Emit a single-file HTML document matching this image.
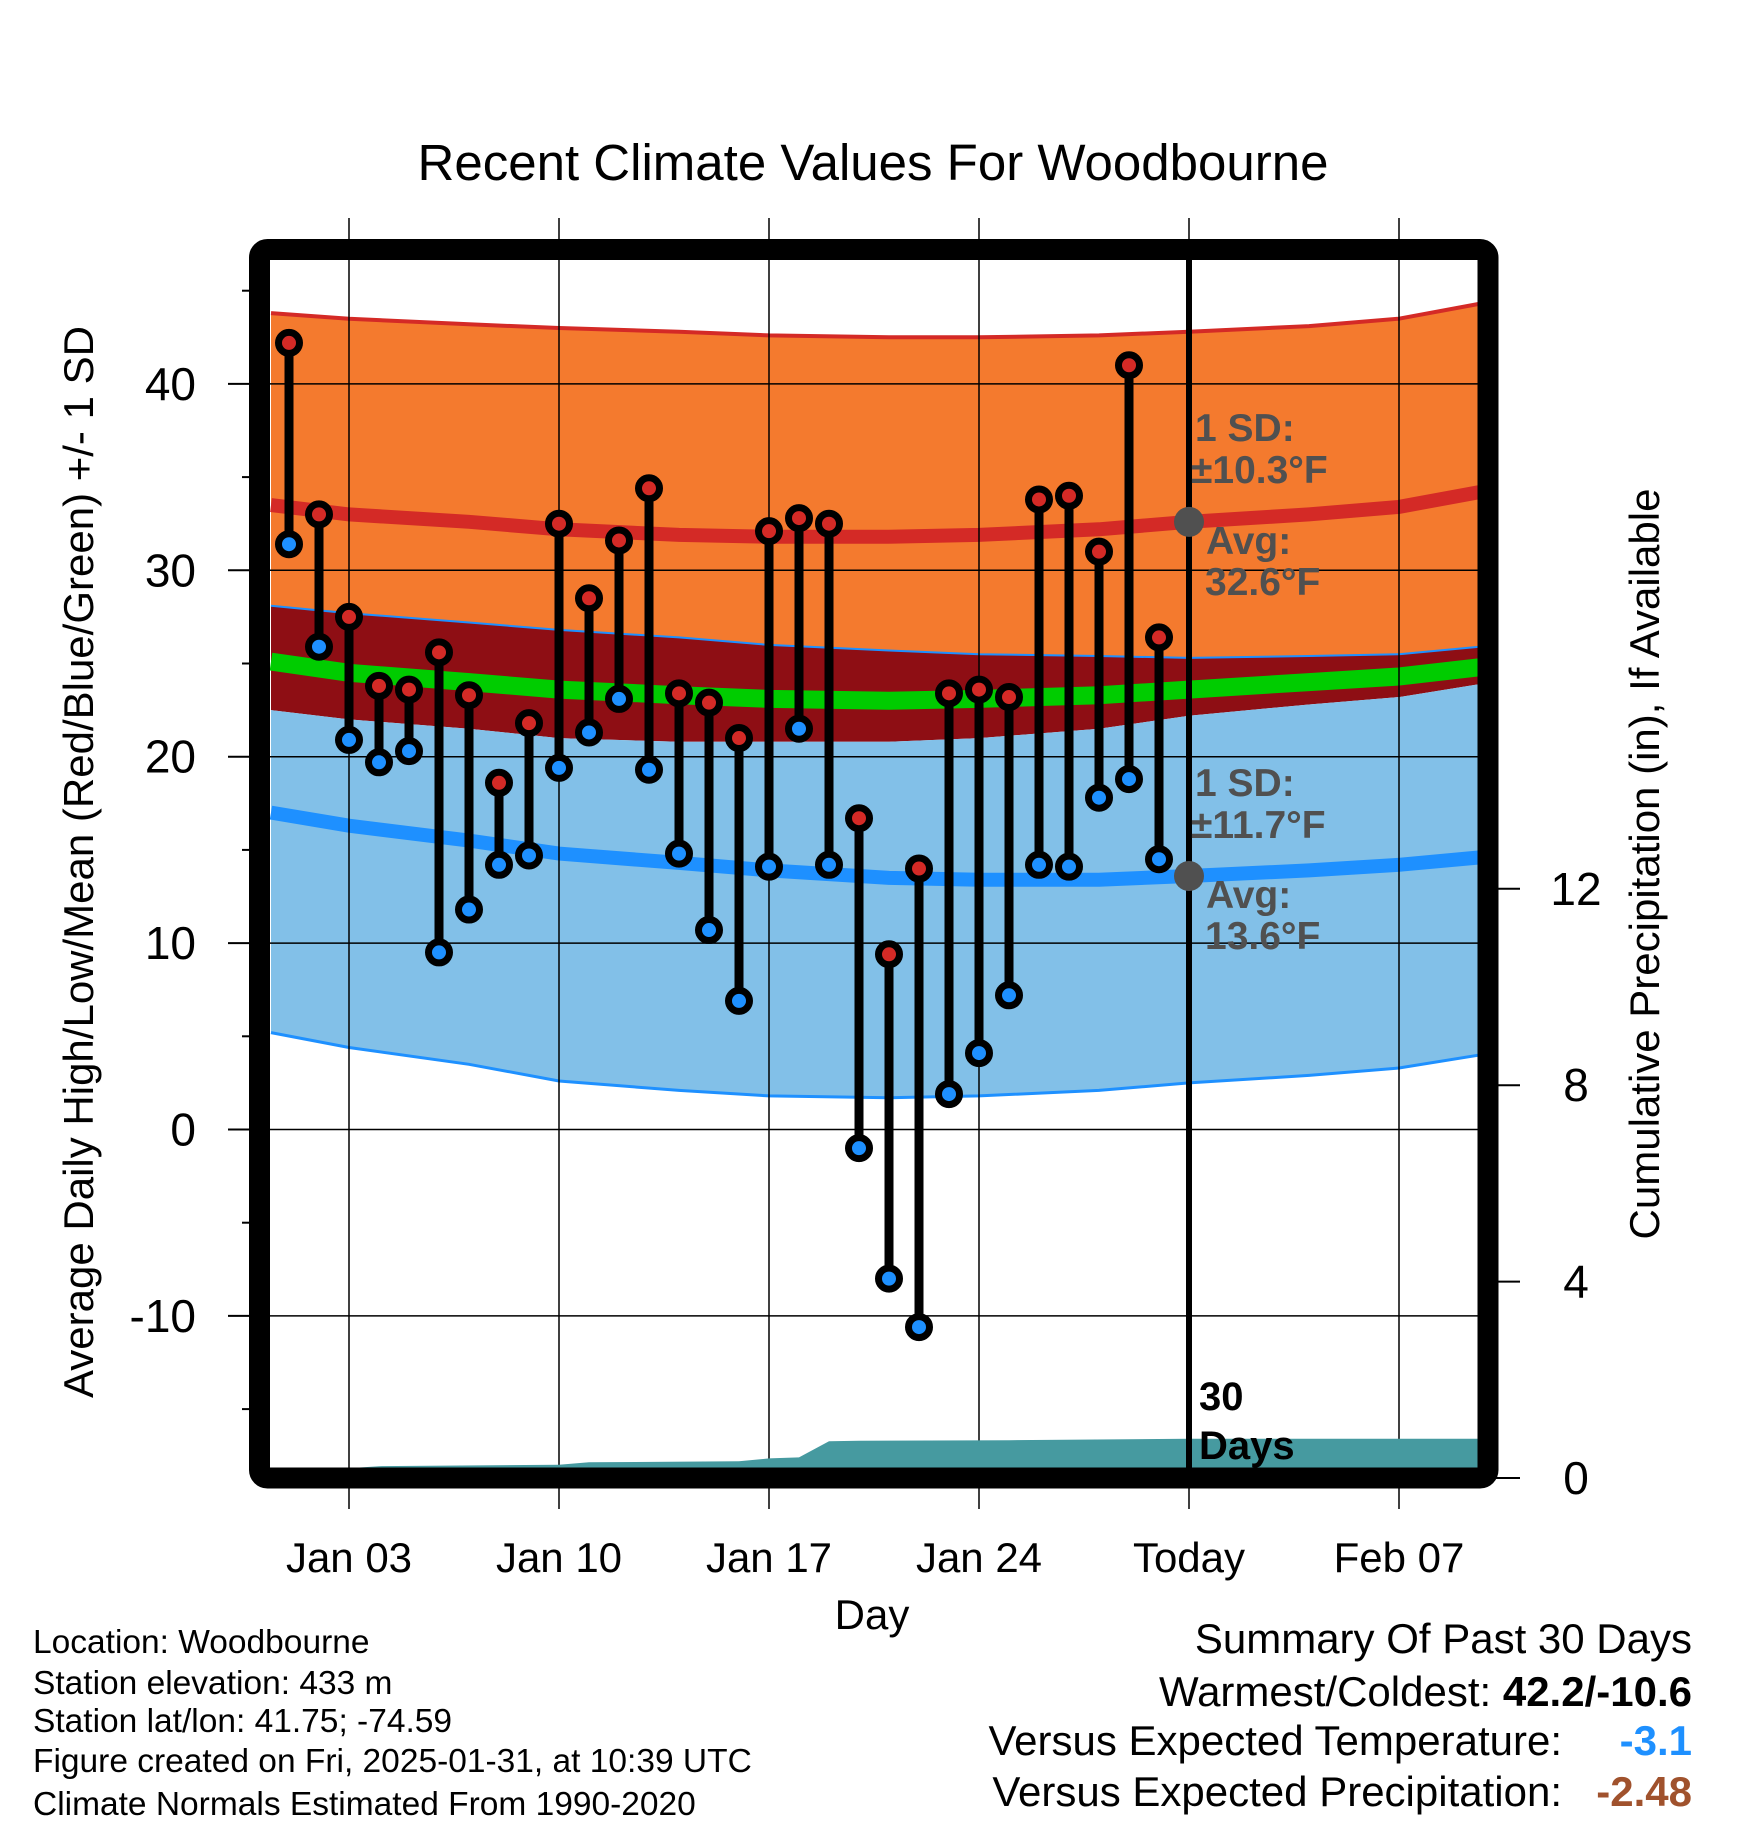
<!DOCTYPE html>
<html><head><meta charset="utf-8"><style>
body{margin:0;background:#fff}
svg{display:block;font-family:"Liberation Sans",sans-serif}
</style></head><body>
<svg id="chart" width="1748" height="1828" viewBox="0 0 1748 1828" xmlns="http://www.w3.org/2000/svg">
<defs><clipPath id="plotclip"><rect x="270" y="260" width="1208" height="1208"/></clipPath></defs>
<text x="873" y="180" font-size="51" text-anchor="middle">Recent Climate Values For Woodbourne</text>
<g id="bands" clip-path="url(#plotclip)"></g>
<g id="grid"></g>
<g id="precip" clip-path="url(#plotclip)"></g>
<g id="marks"></g>
<g id="annot">
<text x="1195" y="441" font-size="39" font-weight="bold" fill="#505050">1 SD:</text>
<text x="1191" y="483" font-size="39" font-weight="bold" fill="#505050">±10.3°F</text>
<text x="1206" y="554" font-size="39" font-weight="bold" fill="#505050">Avg:</text>
<text x="1205" y="595" font-size="39" font-weight="bold" fill="#505050">32.6°F</text>
<text x="1195" y="796" font-size="39" font-weight="bold" fill="#505050">1 SD:</text>
<text x="1191" y="838" font-size="39" font-weight="bold" fill="#505050">±11.7°F</text>
<text x="1206" y="908" font-size="39" font-weight="bold" fill="#505050">Avg:</text>
<text x="1205" y="949" font-size="39" font-weight="bold" fill="#505050">13.6°F</text>
<text x="1199" y="1410" font-size="40" font-weight="bold" fill="#000">30</text>
<text x="1199" y="1459" font-size="40" font-weight="bold" fill="#000">Days</text>
</g>
<rect x="259.5" y="249.5" width="1228.5" height="1228.5" rx="8" fill="none" stroke="#000" stroke-width="21"/>
<g id="axes"></g>
<text transform="translate(93,862) rotate(-90)" font-size="42" text-anchor="middle">Average Daily High/Low/Mean (Red/Blue/Green) +/- 1 SD</text>
<text transform="translate(1659,864) rotate(-90)" font-size="42" text-anchor="middle">Cumulative Precipitation (in), If Available</text>
<text x="872" y="1629" font-size="42" text-anchor="middle">Day</text>
<g font-size="33.5">
<text x="33" y="1653">Location: Woodbourne</text>
<text x="33" y="1694">Station elevation: 433 m</text>
<text x="33" y="1732">Station lat/lon: 41.75; -74.59</text>
<text x="33" y="1772">Figure created on Fri, 2025-01-31, at 10:39 UTC</text>
<text x="33" y="1815">Climate Normals Estimated From 1990-2020</text>
</g>
<g font-size="42">
<text x="1692" y="1653" text-anchor="end">Summary Of Past 30 Days</text>
<text x="1692" y="1706" text-anchor="end">Warmest/Coldest: <tspan font-weight="bold">42.2/-10.6</tspan></text>
<text x="1562" y="1755" text-anchor="end">Versus Expected Temperature:</text>
<text x="1692" y="1755" text-anchor="end" font-weight="bold" fill="#1e90ff">-3.1</text>
<text x="1562" y="1806" text-anchor="end">Versus Expected Precipitation:</text>
<text x="1692" y="1806" text-anchor="end" font-weight="bold" fill="#a0522d">-2.48</text>
</g>
</svg>
<script>
const days=[1,2,3,4,5,6,7,8,9,10,11,12,13,14,15,16,17,18,19,20,21,22,23,24,25,26,27,28,29,30];
const highs=[42.2,33.0,27.5,23.8,23.6,25.6,23.3,18.6,21.8,32.5,28.5,31.6,34.4,23.4,22.9,21.0,32.1,32.8,32.5,16.7,9.4,14.0,23.4,23.6,23.2,33.8,34.0,31.0,41.0,26.4];
const lows=[31.4,25.9,20.9,19.7,20.3,9.5,11.8,14.2,14.7,19.4,21.3,23.1,19.3,14.8,10.7,6.9,14.1,21.5,14.2,-1.0,-8.0,-10.6,1.9,4.1,7.2,14.2,14.1,17.8,18.8,14.5];
const normDays=[0.4,3,7,10,14,17,21,24,28,31,35,38,40.7];
const hiPlusSD=[43.8,43.5,43.2,43.0,42.8,42.6,42.5,42.5,42.6,42.8,43.1,43.5,44.3];
const hiAvg=[33.5,33.0,32.6,32.2,31.9,31.8,31.8,31.9,32.2,32.6,33.0,33.4,34.2];
const hiMinusSD=[28.1,27.7,27.2,26.8,26.4,26.0,25.7,25.5,25.4,25.3,25.4,25.5,25.9];
const meanAvg=[25.1,24.5,24.0,23.6,23.3,23.1,23.0,23.1,23.3,23.6,24.0,24.3,24.8];
const loPlusSD=[22.5,22.0,21.5,21.0,20.8,20.8,20.8,21.0,21.5,22.2,22.8,23.2,23.9];
const loAvg=[17.0,16.3,15.5,14.8,14.3,13.9,13.5,13.4,13.4,13.6,13.9,14.2,14.6];
const loMinusSD=[5.2,4.4,3.5,2.6,2.1,1.8,1.7,1.8,2.1,2.5,2.9,3.3,4.0];
const precipDays=[0.4,1,2,3,4,10,11,16,17,18,19,20,25,31,40.7];
const precipVals=[0,0,0.05,0.2,0.24,0.27,0.32,0.34,0.4,0.42,0.75,0.76,0.77,0.8,0.8];
const yTicks=[-10,0,10,20,30,40];
const y2Ticks=[0,4,8,12];
const xTickDays=[3,10,17,24,31,38];
const xTickLabels=["Jan 03","Jan 10","Jan 17","Jan 24","Today","Feb 07"];
const todayDay=31;

const NS="http://www.w3.org/2000/svg";
const L=270,R=1478,T=260,B=1468;
const X=d=>349+(d-3)*30;
const Y=v=>1129.5-v*18.64;
const Y2=p=>1478-p*49.1;
function el(tag,attrs,parent){const e=document.createElementNS(NS,tag);for(const k in attrs)e.setAttribute(k,attrs[k]);parent.appendChild(e);return e;}
function pts(xs,ys,f){return xs.map((d,i)=>X(d).toFixed(1)+","+f(ys[i]).toFixed(1));}
const bands=document.getElementById('bands');
function band(top,bot,fill,name){
  const p=pts(normDays,top,Y).concat(pts(normDays,bot,Y).reverse());
  const e=el('polygon',{points:p.join(' '),fill:fill},bands);
  
  
}
function line(vals,color,w,name){
  const e=el('polyline',{points:pts(normDays,vals,Y).join(' '),fill:'none',stroke:color,'stroke-width':w},bands);
  
  
}
band(hiPlusSD,hiMinusSD,'#f47a2e','high-sd-band');
band(hiMinusSD,loPlusSD,'#8e0e14','mid-band');
band(loPlusSD,loMinusSD,'#82c0e8','low-sd-band');
line(hiPlusSD,'#d42a26',4,'high-plus-sd-line');
line(hiMinusSD,'#1e90ff',2,'high-minus-sd-line');
line(meanAvg,'#00cc00',18,'mean-line');
line(hiAvg,'#d42a26',14,'high-avg-line');
line(loAvg,'#1e90ff',14,'low-avg-line');
line(loMinusSD,'#1e90ff',3,'low-minus-sd-line');

const grid=document.getElementById('grid');
yTicks.forEach(v=>{const e=el('line',{x1:L,x2:R,y1:Y(v),y2:Y(v),stroke:'#000','stroke-width':1.5},grid);

});
xTickDays.forEach(d=>{const e=el('line',{x1:X(d),x2:X(d),y1:218,y2:1509,stroke:'#000','stroke-width':1.5},grid);

});

const pg=document.getElementById('precip');
const pp=pts(precipDays,precipVals,Y2);
pp.push(X(precipDays[precipDays.length-1]).toFixed(1)+","+B,X(precipDays[0]).toFixed(1)+","+B);
const pa=el('polygon',{points:pp.join(' '),fill:'#469aa0'},pg);


const tl=el('line',{x1:X(todayDay),x2:X(todayDay),y1:T,y2:B,stroke:'#000','stroke-width':6},pg);



const mk=document.getElementById('marks');
days.forEach((d,i)=>{
  const x=X(d);
  const s=el('line',{x1:x,x2:x,y1:Y(highs[i]),y2:Y(lows[i]),stroke:'#000','stroke-width':9},mk);
  
  
});
days.forEach((d,i)=>{
  const x=X(d);
  const h=el('circle',{cx:x,cy:Y(highs[i]),r:10.5,fill:'#d42a26',stroke:'#000','stroke-width':7},mk);
  
  
  const l=el('circle',{cx:x,cy:Y(lows[i]),r:10.5,fill:'#1e90ff',stroke:'#000','stroke-width':7},mk);
  
  
});
const hiToday=hiAvg[9],loToday=loAvg[9];
const g1=el('circle',{cx:X(todayDay),cy:Y(hiToday),r:15,fill:'#505050'},mk);


const g2=el('circle',{cx:X(todayDay),cy:Y(loToday),r:15,fill:'#505050'},mk);



const ax=document.getElementById('axes');
yTicks.forEach(v=>{
  const t=el('line',{x1:228,x2:250,y1:Y(v),y2:Y(v),stroke:'#000','stroke-width':2},ax);
  
  
  const tx=el('text',{x:196,y:Y(v)+16,'font-size':46,'text-anchor':'end'},ax);
  tx.textContent=v;
  
  
});
for(let v=-15;v<=45;v+=10){const t=el('line',{x1:242,x2:250,y1:Y(v),y2:Y(v),stroke:'#000','stroke-width':2},ax);

}
y2Ticks.forEach(p=>{
  const t=el('line',{x1:1496,x2:1520,y1:Y2(p),y2:Y2(p),stroke:'#000','stroke-width':2},ax);
  
  
  const tx=el('text',{x:1576,y:Y2(p)+16,'font-size':46,'text-anchor':'middle'},ax);
  tx.textContent=p;
  
  
});
xTickDays.forEach((d,i)=>{
  const tx=el('text',{x:X(d),y:1572,'font-size':42,'text-anchor':'middle'},ax);
  tx.textContent=xTickLabels[i];
  
  
});
</script>
</body></html>
